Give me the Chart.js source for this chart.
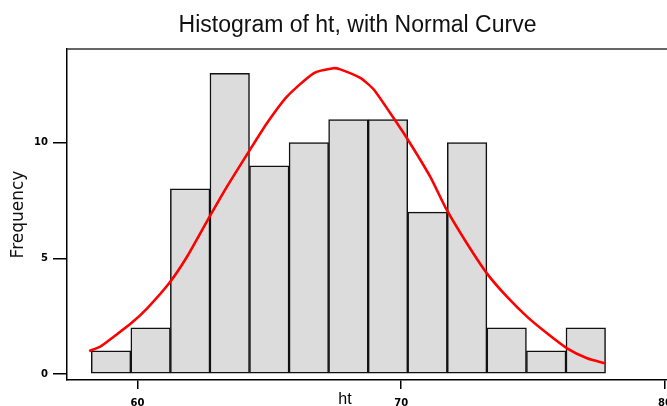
<!DOCTYPE html>
<html>
<head>
<meta charset="utf-8">
<title>Histogram of ht</title>
<script src="https://cdn.jsdelivr.net/npm/chart.js"></script>
<style>
  html, body { margin: 0; padding: 0; background: #fff; overflow: hidden; }
  #box { width: 715px; height: 406px; }
</style>
</head>
<body>
<div id="box"><canvas id="graficoHist" width="715" height="406"></canvas></div>
<script>
// ---------- DADOS ----------

var binCenters = [59, 60.5, 62, 63.5, 65, 66.5, 68, 69.5, 71, 72.5, 74, 75.5, 77];
var binCounts = [1, 2, 8, 13, 9, 10, 11, 11, 7, 10, 2, 1, 2];

// pontos da curva normal
var curveX = [58.17, 58.59, 59.1, 59.76, 60.37, 61.2, 61.88, 62.7, 63.39, 64.26, 64.91, 65.67,
  66.68, 67.43, 67.69, 68.45, 68.96, 69.59, 70.22, 71.1, 71.73, 72.49, 73.25, 74.01,
  74.77, 75.53, 76.29, 77.05, 77.74];
var curveY = [0.99, 1.18, 1.61, 2.19, 2.84, 3.92, 5.07, 6.73, 8.09, 9.68, 10.84, 11.99,
  13.0, 13.22, 13.17, 12.8, 12.3, 11.27, 10.19, 8.53, 7.09, 5.65, 4.35, 3.34,
  2.48, 1.76, 1.11, 0.68, 0.46];

var xTicks = [60, 70, 80];
var yTicks = [0, 5, 10];

var titulo = "Histogram of ht, with Normal Curve";
var tituloX = "ht";
var tituloY = "Frequency";

// ---------- MONTAGEM ----------

function pares(xs, ys) {
  var lista = [];
  for (var i = 0; i < xs.length; i++) {
    lista.push({ x: xs[i], y: ys[i] });
  }
  return lista;
}

var molduraPlugin = {
  id: "moldura",
  afterDraw: function (chart) {
    var ctx = chart.ctx;
    var area = chart.chartArea;
    ctx.save();
    ctx.strokeStyle = "#333";
    ctx.lineWidth = 1.5;
    ctx.beginPath();
    ctx.moveTo(area.left, area.top);
    ctx.lineTo(area.right, area.top);
    ctx.stroke();

    // rotulo do eixo x, um pouco a esquerda do centro como no original
    ctx.fillStyle = "#000";
    ctx.font = "16px 'Liberation Sans', Arial, sans-serif";
    ctx.textAlign = "center";
    ctx.textBaseline = "alphabetic";
    ctx.fillText(tituloX, 345, 404);
    ctx.restore();
  },
};

function desenharHistograma() {
  var ctx = document.getElementById("graficoHist");

  new Chart(ctx, {
    type: "bar",
    data: {
      datasets: [
        {
          type: "line",
          label: "Normal",
          data: pares(curveX, curveY),
          borderColor: "#ff0000",
          borderWidth: 2.6,
          pointRadius: 0,
          tension: 0.2,
          fill: false,
          order: 1,
        },
        {
          type: "bar",
          label: "ht",
          data: pares(binCenters, binCounts),
          backgroundColor: "#dcdcdc",
          borderColor: "#111",
          borderWidth: 1.5,
          borderSkipped: false,
          barPercentage: 1,
          categoryPercentage: 1,
          grouped: false,
          order: 2,
        },
      ],
    },
    options: {
      responsive: false,
      animation: false,
      layout: { padding: 0 },
      plugins: {
        legend: { display: false },
        tooltip: { enabled: false },
        title: {
          display: true,
          text: titulo,
          color: "#111",
          font: { family: "'Liberation Sans', Arial, sans-serif", size: 23, weight: "normal" },
          padding: { top: 11.5, bottom: 9.9 },
        },
      },
      scales: {
        x: {
          type: "linear",
          min: 57.33,
          max: 81.9,
          offset: false,
          afterBuildTicks: function (scale) {
            scale.ticks = xTicks.map(function (v) { return { value: v }; });
          },
          afterFit: function (scale) {
            scale.height = 26;
          },
          grid: {
            display: true,
            offset: false,
            drawOnChartArea: false,
            drawTicks: true,
            tickLength: 9,
            color: "#000",
            lineWidth: 1.5,
          },
          border: { display: true, color: "#000", width: 1.5 },
          ticks: {
            color: "#000",
            padding: 8,
            maxRotation: 0,
            font: { family: "'DejaVu Sans', sans-serif", size: 10, weight: "bold" },
          },
        },
        y: {
          type: "linear",
          min: -0.26,
          max: 14.05,
          afterBuildTicks: function (scale) {
            scale.ticks = yTicks.map(function (v) { return { value: v }; });
          },
          afterFit: function (scale) {
            scale.width = 67;
          },
          grid: {
            display: true,
            drawOnChartArea: false,
            drawTicks: true,
            tickLength: 14,
            color: "#000",
            lineWidth: 1.5,
          },
          border: { display: true, color: "#000", width: 1.5 },
          ticks: {
            color: "#000",
            padding: 5,
            font: { family: "'DejaVu Sans', sans-serif", size: 10, weight: "bold" },
          },
          title: {
            display: true,
            text: tituloY,
            color: "#111",
            padding: { top: 8, bottom: 0 },
            font: { family: "'DejaVu Sans', sans-serif", size: 17, weight: "normal" },
          },
        },
      },
    },
    plugins: [molduraPlugin],
  });
}

window.onload = function () {
  desenharHistograma();
};
</script>
</body>
</html>
